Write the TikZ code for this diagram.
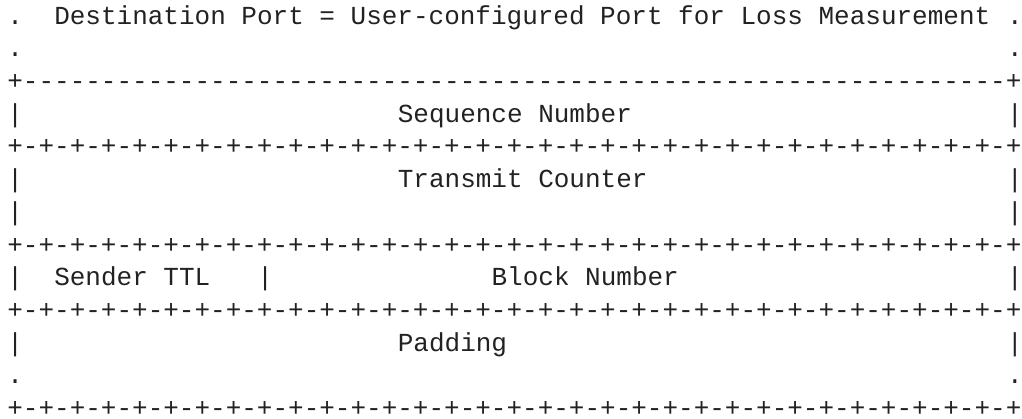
\documentclass[tikz,border=0pt]{standalone}
\usepackage{fontspec}
\setmonofont{Liberation Mono}
\definecolor{ink}{HTML}{222222}
\tikzset{asc/.style={font=\fontsize{26bp}{32bp}\selectfont\ttfamily, text=ink, inner sep=0pt, anchor=base west}}
\def\dashrow{+---------------------------------------------------------------+}
\def\tickrow{+-+-+-+-+-+-+-+-+-+-+-+-+-+-+-+-+-+-+-+-+-+-+-+-+-+-+-+-+-+-+-+-+}

\begin{document}
\begin{tikzpicture}[x=15.62bp, y=-32.7bp]
	%%%%% START %%%%%
	\useasboundingbox (0, 0) rectangle (65.43, 12.813);
	
	\begin{scope}[shift={(0.461, -0.262)}]
		\node[asc] (dotA) at (0, 1) {.};
		\node[asc] (title) at (3, 1) {Destination Port = User-configured Port for Loss Measurement};
		\node[asc] (dotB) at (64, 1) {.};
		
		\node[asc] (dotC) at (0, 2) {.};
		\node[asc] (dotD) at (64, 2) {.};
		
		\node[asc] (topline) at (0, 3) {\dashrow};
		
		\node[asc] (barA) at (0, 4) {|};
		\node[asc] (seqno) at (25, 4) {Sequence Number};
		\node[asc] (barB) at (64, 4) {|};
		
		\node[asc] (rowA) at (0, 5) {\tickrow};
		
		\node[asc] (barC) at (0, 6) {|};
		\node[asc] (txcount) at (25, 6) {Transmit Counter};
		\node[asc] (barD) at (64, 6) {|};
		
		\node[asc] (barE) at (0, 7) {|};
		\node[asc] (barF) at (64, 7) {|};
		
		\node[asc] (rowB) at (0, 8) {\tickrow};
		
		\node[asc] (barG) at (0, 9) {|};
		\node[asc] (ttl) at (3, 9) {Sender TTL};
		\node[asc] (barH) at (16, 9) {|};
		\node[asc] (blockno) at (31, 9) {Block Number};
		\node[asc] (barI) at (64, 9) {|};
		
		\node[asc] (rowC) at (0, 10) {\tickrow};
		
		\node[asc] (barJ) at (0, 11) {|};
		\node[asc] (padding) at (25, 11) {Padding};
		\node[asc] (barK) at (64, 11) {|};
		
		\node[asc] (dotE) at (0, 12) {.};
		\node[asc] (dotF) at (64, 12) {.};
		
		\node[asc] (rowD) at (0, 13) {\tickrow};
	\end{scope}
	
	%%%%% END %%%%%
\end{tikzpicture}
\end{document}
